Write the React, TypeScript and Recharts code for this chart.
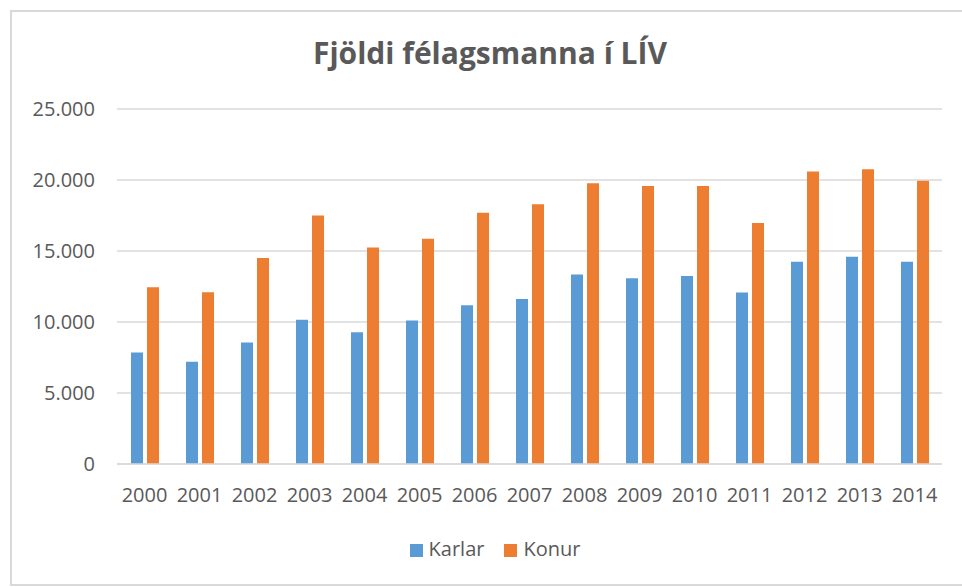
import React from "react";
import { BarChart, Bar, XAxis, YAxis, CartesianGrid, Legend } from "recharts";

const years = ["2000", "2001", "2002", "2003", "2004", "2005", "2006", "2007", "2008", "2009", "2010", "2011", "2012", "2013", "2014"];
const karlar = [7850, 7200, 8550, 10150, 9270, 10100, 11180, 11620, 13350, 13080, 13240, 12070, 14250, 14600, 14250];
const konur = [12450, 12100, 14500, 17500, 15250, 15870, 17700, 18300, 19770, 19580, 19580, 16970, 20590, 20750, 19950];
const yTicks = [0, 5000, 10000, 15000, 20000, 25000];

const data = years.map((y, i) => ({ year: y, Karlar: karlar[i], Konur: konur[i] }));

const FONT = "'Open Sans', sans-serif";
const TEXT = "#595959";

const fmt = (v: number) => (v === 0 ? "0" : v.toLocaleString("de-DE"));

export default function App() {
    return (
        <div
            style={{
                position: "absolute",
                left: 10,
                top: 10,
                width: 950,
                height: 572,
                borderTop: "2px solid #d9d9d9",
                borderLeft: "2px solid #d9d9d9",
                borderBottom: "2px solid #d9d9d9",
                background: "#fff",
                fontFamily: FONT,
            }}
        >
            {/* titill */}
            <div
                style={{
                    position: "absolute",
                    left: 0,
                    width: 956,
                    top: 20,
                    textAlign: "center",
                    fontSize: 30,
                    fontWeight: 700,
                    color: TEXT,
                }}
            >
                Fjöldi félagsmanna í LÍV
            </div>
            <BarChart
                width={950}
                height={572}
                data={data}
                margin={{ top: 97, right: 20, bottom: 22, left: 0 }}
                barGap={4}
            >
                <CartesianGrid vertical={false} stroke="#d9d9d9" strokeWidth={1.5} />
                <XAxis
                    dataKey="year"
                    axisLine={{ stroke: "#d9d9d9", strokeWidth: 1.5 }}
                    tickLine={false}
                    tickSize={0}
                    tickMargin={24}
                    height={71}
                    interval={0}
                    tick={{ fill: TEXT, fontSize: 20, fontFamily: FONT }}
                />
                <YAxis
                    domain={[0, 25000]}
                    ticks={yTicks}
                    tickFormatter={fmt}
                    axisLine={false}
                    tickLine={false}
                    tickSize={0}
                    tickMargin={22}
                    width={105}
                    tick={{ fill: TEXT, fontSize: 20, fontFamily: FONT }}
                />
                <Legend
                    verticalAlign="bottom"
                    iconType="square"
                    iconSize={13}
                    wrapperStyle={{ left: 13, width: 950, fontSize: 20, fontFamily: FONT, lineHeight: "27px" }}
                    formatter={(v: string) => (
                        <span style={{ color: TEXT, paddingLeft: 2, marginRight: v === "Karlar" ? 10 : 0 }}>{v}</span>
                    )}
                />
                <Bar dataKey="Karlar" fill="#5b9bd5" barSize={12} isAnimationActive={false} />
                <Bar dataKey="Konur" fill="#ed7d31" barSize={12} isAnimationActive={false} />
            </BarChart>
        </div>
    );
}
